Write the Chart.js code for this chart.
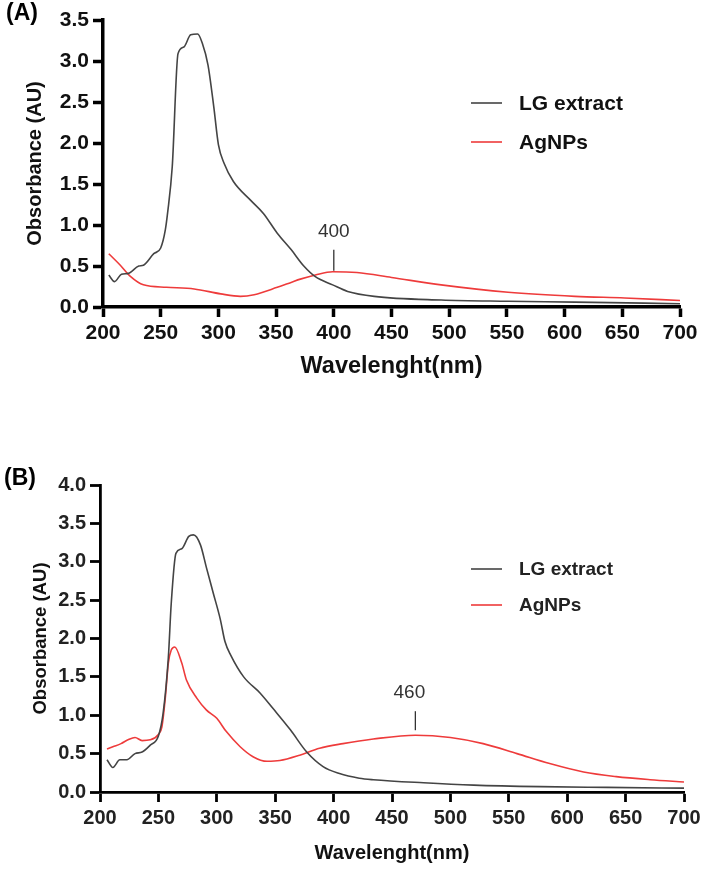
<!DOCTYPE html>
<html>
<head>
<meta charset="utf-8">
<script src="https://cdn.jsdelivr.net/npm/chart.js@4.4.1/dist/chart.umd.min.js"></script>
<style>
  html, body { margin: 0; padding: 0; background: #fff; }
  body { width: 710px; height: 871px; position: relative; overflow: hidden; }
  .panel { position: absolute; left: 0; }
</style>
</head>
<body>
<div class="panel" style="top:0px"><canvas id="chart-a" width="710" height="400"></canvas></div>
<div class="panel" style="top:460px"><canvas id="chart-b" width="710" height="411"></canvas></div>
<script>
// --- DATA ---
// Panel A
const lgWaveA = [205, 210, 216, 222, 231, 235, 244, 250, 254, 256, 260, 265, 270, 276, 282, 286, 291, 296, 300, 305, 313, 328, 339, 351, 363, 374, 384, 399, 412, 435, 493, 551, 609, 700];
const lgAbsA  = [0.39, 0.31, 0.40, 0.41, 0.50, 0.51, 0.65, 0.72, 0.94, 1.15, 1.71, 3.09, 3.17, 3.32, 3.33, 3.22, 2.95, 2.44, 1.98, 1.75, 1.53, 1.30, 1.14, 0.90, 0.70, 0.50, 0.37, 0.27, 0.19, 0.13, 0.085, 0.07, 0.06, 0.04];
const agWaveA = [205, 215, 224, 235, 255, 279, 302, 319, 331, 351, 363, 371, 384, 399, 420, 450, 493, 551, 609, 652, 700];
const agAbsA  = [0.65, 0.51, 0.37, 0.27, 0.24, 0.22, 0.16, 0.13, 0.15, 0.24, 0.30, 0.34, 0.39, 0.43, 0.42, 0.36, 0.27, 0.18, 0.13, 0.11, 0.08];

// Panel B
const lgWaveB = [206, 211, 217, 223, 230, 236, 243, 250, 254, 258.5, 261, 265, 270, 276, 280, 286, 291, 297, 303, 307, 312, 323, 337, 348, 363, 377, 391, 405, 422, 434, 477, 520, 577, 634, 700];
const lgAbsB  = [0.42, 0.32, 0.42, 0.42, 0.50, 0.52, 0.61, 0.73, 1.02, 1.75, 2.46, 3.11, 3.17, 3.33, 3.35, 3.22, 2.93, 2.59, 2.25, 1.96, 1.78, 1.50, 1.29, 1.09, 0.81, 0.52, 0.33, 0.24, 0.18, 0.16, 0.12, 0.09, 0.07, 0.06, 0.05];
const agWaveB = [206, 211, 218, 224, 230, 236, 243, 250, 253, 256, 258.5, 261, 264, 270, 274, 283, 291, 300, 308, 320, 331, 343, 354, 371, 388, 408, 434, 470, 500, 528, 557, 585, 614, 642, 671, 700];
const agAbsB  = [0.56, 0.59, 0.63, 0.68, 0.71, 0.67, 0.68, 0.75, 0.85, 1.24, 1.68, 1.85, 1.89, 1.68, 1.46, 1.22, 1.07, 0.96, 0.79, 0.59, 0.46, 0.40, 0.41, 0.48, 0.57, 0.63, 0.69, 0.74, 0.71, 0.63, 0.50, 0.37, 0.26, 0.20, 0.16, 0.13];

const seriesNames = ["LG extract", "AgNPs"];
const seriesColors = ["#444444", "#ee3b3b"];
const xTitle = "Wavelenght(nm)";
const yTitle = "Obsorbance (AU)";

const FONT = "'Liberation Sans', Arial, sans-serif";

function toPoints(xs, ys) {
  return xs.map((x, i) => ({ x: x, y: ys[i] }));
}

// Draws the panel letter, legend and the peak marker
const decorPlugin = {
  id: "decor",
  afterDraw(chart, args, opts) {
    const ctx = chart.ctx;
    const xs = chart.scales.x, ys = chart.scales.y;
    ctx.save();

    // panel letter
    ctx.fillStyle = "#000";
    ctx.font = "bold 23px " + FONT;
    ctx.textAlign = "left";
    ctx.textBaseline = "middle";
    ctx.fillText(opts.panel, opts.panelX, opts.panelY);

    // legend
    ctx.font = opts.legendFont;
    opts.legendRows.forEach((row, i) => {
      const y = opts.legendY + i * opts.legendGap;
      ctx.strokeStyle = seriesColors[i];
      ctx.lineWidth = 1.6;
      ctx.beginPath();
      ctx.moveTo(opts.legendX, y);
      ctx.lineTo(opts.legendX + 31, y);
      ctx.stroke();
      ctx.fillStyle = opts.legendColor;
      ctx.fillText(row, opts.legendX + 48, y + 1);
    });

    // peak marker
    const px = xs.getPixelForValue(opts.peak.x);
    const bottom = ys.getPixelForValue(opts.peak.y) - opts.peak.gap;
    const top = bottom - opts.peak.len;
    ctx.strokeStyle = "#333";
    ctx.lineWidth = 1.3;
    ctx.beginPath();
    ctx.moveTo(px, top);
    ctx.lineTo(px, bottom);
    ctx.stroke();
    ctx.fillStyle = "#333";
    ctx.font = "19px " + FONT;
    ctx.textAlign = "center";
    ctx.fillText(opts.peak.label, px - opts.peak.shift, top - 18);

    ctx.restore();
  }
};

function makeChart(canvas, cfg) {
  return new Chart(canvas.getContext("2d"), {
    type: "line",
    data: {
      datasets: [
        {
          label: seriesNames[0],
          data: toPoints(cfg.lgWave, cfg.lgAbs),
          borderColor: seriesColors[0],
          borderWidth: 1.6,
          pointRadius: 0,
          cubicInterpolationMode: "monotone"
        },
        {
          label: seriesNames[1],
          data: toPoints(cfg.agWave, cfg.agAbs),
          borderColor: seriesColors[1],
          borderWidth: 1.6,
          pointRadius: 0,
          cubicInterpolationMode: "monotone"
        }
      ]
    },
    options: {
      responsive: false,
      animation: false,
      layout: { padding: { left: 0, right: cfg.padRight, top: cfg.padTop, bottom: 0 } },
      plugins: {
        legend: { display: false },
        tooltip: { enabled: false },
        decor: cfg.decor
      },
      scales: {
        x: {
          type: "linear",
          min: 200,
          max: 700,
          afterFit: s => { s.height = cfg.xHeight; },
          border: { display: true, color: "#000", width: cfg.axisWidth },
          grid: { drawOnChartArea: false, color: "#000", tickLength: 10, tickWidth: cfg.axisWidth },
          ticks: {
            stepSize: 50,
            padding: 4,
            color: cfg.tickColor,
            font: { family: FONT, size: cfg.tickSize, weight: "bold" }
          },
          title: {
            display: true,
            text: xTitle,
            color: "#111",
            font: { family: FONT, size: cfg.xTitleSize, weight: "bold" },
            padding: { top: 0, bottom: cfg.xTitlePad }
          }
        },
        y: {
          min: 0,
          max: cfg.yMax,
          afterFit: s => { s.width = cfg.yWidth; },
          border: { display: true, color: "#000", width: cfg.axisWidth },
          grid: { drawOnChartArea: false, color: "#000", tickLength: 10, tickWidth: cfg.axisWidth },
          ticks: {
            stepSize: 0.5,
            padding: 4,
            color: cfg.tickColor,
            font: { family: FONT, size: cfg.tickSize, weight: "bold" },
            callback: v => v.toFixed(1)
          },
          title: {
            display: true,
            text: yTitle,
            color: "#111",
            font: { family: FONT, size: cfg.yTitleSize, weight: "bold" },
            padding: { top: cfg.yTitlePad, bottom: 0 }
          }
        }
      }
    },
    plugins: [decorPlugin]
  });
}

document.addEventListener("DOMContentLoaded", function () {
  makeChart(document.getElementById("chart-a"), {
    lgWave: lgWaveA, lgAbs: lgAbsA, agWave: agWaveA, agAbs: agAbsA,
    yMax: 3.5, padTop: 20, padRight: 30, xHeight: 93, yWidth: 103,
    axisWidth: 3.5, tickSize: 21, tickColor: "#111",
    xTitleSize: 23.5, xTitlePad: 19, yTitleSize: 20, yTitlePad: 23,
    decor: {
      panel: "(A)", panelX: 6, panelY: 14,
      legendRows: seriesNames, legendX: 471, legendY: 103, legendGap: 39,
      legendFont: "bold 21px " + FONT, legendColor: "#111",
      peak: { x: 400, y: 0.43, gap: 1, len: 21, label: "400", shift: 0 }
    }
  });

  makeChart(document.getElementById("chart-b"), {
    lgWave: lgWaveB, lgAbs: lgAbsB, agWave: agWaveB, agAbs: agAbsB,
    yMax: 4.0, padTop: 25, padRight: 26, xHeight: 79, yWidth: 100,
    axisWidth: 2.8, tickSize: 20, tickColor: "#222",
    xTitleSize: 20, xTitlePad: 6, yTitleSize: 18.5, yTitlePad: 30,
    decor: {
      panel: "(B)", panelX: 4, panelY: 19,
      legendRows: seriesNames, legendX: 471, legendY: 109, legendGap: 36,
      legendFont: "bold 19px " + FONT, legendColor: "#222",
      peak: { x: 470, y: 0.74, gap: 5, len: 19, label: "460", shift: 6 }
    }
  });
});
</script>
</body>
</html>
